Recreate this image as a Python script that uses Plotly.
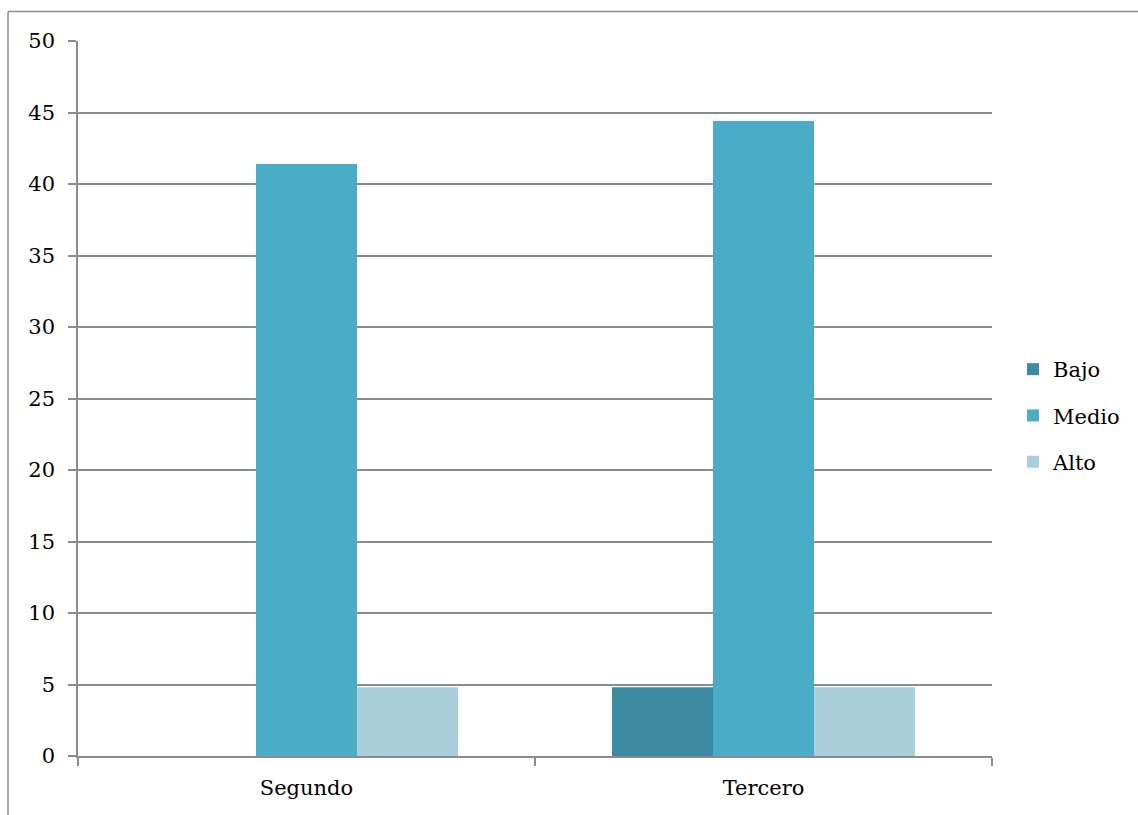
import plotly.graph_objects as go

categories = ["Segundo", "Tercero"]
bajo = [0, 4.8]
medio = [41.4, 44.4]
alto = [4.8, 4.8]
series_names = ["Bajo", "Medio", "Alto"]
colors = ["#3C8BA2", "#4AACC6", "#A9CEDC"]
y_ticks = [0, 5, 10, 15, 20, 25, 30, 35, 40, 45, 50]

W, H = 1138, 815
ML, MR, MT, MB = 78, 146, 41, 59
PW, PH = W - ML - MR, H - MT - MB

def px_x(px):
    return (px - ML) / PW

def px_y(py):
    return (H - MB - py) / PH

FONT = "DejaVu Serif"
FS = 21
GRID = "#8c8c8c"

fig = go.Figure()
for name, vals, c in zip(series_names, [bajo, medio, alto], colors):
    fig.add_trace(go.Bar(name=name, x=categories, y=vals, marker_color=c,
                         marker_line_width=0, legendgroup=name))

fig.update_layout(
    width=W, height=H,
    margin=dict(l=ML, r=MR, t=MT, b=MB, pad=0, autoexpand=False),
    paper_bgcolor="white", plot_bgcolor="white",
    barmode="group", bargap=0.337, bargroupgap=0,
    font=dict(family=FONT, size=FS, color="#000000"),
    showlegend=True,
    legend=dict(x=px_x(1013), y=px_y(349), xanchor="left", yanchor="top",
                font=dict(family=FONT, size=FS), tracegroupgap=16,
                bgcolor="rgba(0,0,0,0)"),
    xaxis=dict(showgrid=False, showline=True, linecolor=GRID, linewidth=1.5,
               ticks="outside", tickson="boundaries", ticklen=8, tickcolor=GRID,
               tickwidth=1.5, tickfont=dict(family=FONT, size=FS),
               ticklabelstandoff=12),
    yaxis=dict(range=[0, 50], tickvals=y_ticks, showgrid=True, gridcolor=GRID,
               gridwidth=1.5, showline=True, linecolor=GRID, linewidth=1.5,
               ticks="outside", ticklen=8, tickcolor=GRID, tickwidth=1.5,
               zeroline=False, tickfont=dict(family=FONT, size=FS),
               ticklabelstandoff=9),
    shapes=[
        dict(type="line", xref="paper", yref="paper", x0=px_x(8), x1=px_x(W),
             y0=px_y(11.5), y1=px_y(11.5), line=dict(color=GRID, width=1.5)),
        dict(type="line", xref="paper", yref="paper", x0=px_x(8), x1=px_x(8),
             y0=px_y(11.5), y1=px_y(H), line=dict(color=GRID, width=1.5)),
    ],
)

fig.write_html("out.html")
